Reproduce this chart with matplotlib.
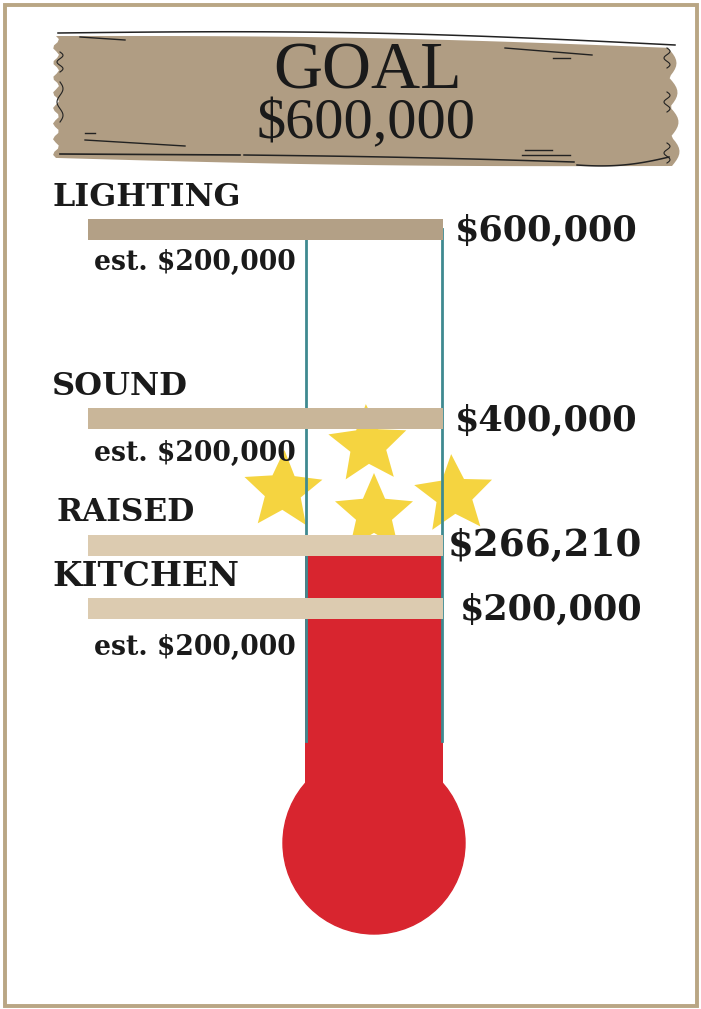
import numpy as np
import matplotlib.pyplot as plt
from matplotlib.patches import Rectangle, Ellipse, Polygon

# data
goal = 600000
raised = 266210
categories = ["LIGHTING", "SOUND", "KITCHEN"]
targets = [600000, 400000, 200000]
estimates = [200000, 200000, 200000]
value_labels = ["$600,000", "$400,000", "$200,000"]

# colours
frame_col = "#b9a684"
wood_col = "#b09d83"
bar_cols = ["#b3a086", "#c9b699", "#dccbb0"]
raised_col = "#dccbb0"
red = "#d8252f"
teal = "#3f8a90"
star_col = "#f5d440"

W, H = 701, 1009
fig = plt.figure(figsize=(W / 100, H / 100), dpi=100)

# pixel layer for decorations
deco = fig.add_axes([0, 0, 1, 1])
deco.set_xlim(0, W)
deco.set_ylim(H, 0)
deco.axis("off")

# chart layer: x in pixels, y in dollars
ax = fig.add_axes([0, 0, 1, 1])
ax.set_xlim(0, W)
ax.set_ylim(-223200, 841700)
ax.axis("off")
ax.patch.set_alpha(0)
px = (841700 + 223200) / H  # dollars per pixel
pt = 0.72  # points per pixel

# frame
deco.add_patch(Rectangle((5, 5), 692, 1001, fill=False, ec=frame_col, lw=2.8))

# wooden sign
t = np.linspace(0, 1, 40)
top = np.c_[58 + 614 * t, 36 + 12 * t - 4 * np.sin(np.pi * t)]
rgt = np.c_[668 + 8 * np.abs(np.sin(t * 4 * np.pi)) + 4 * t, 48 + 118 * t]
bot = np.c_[672 - 614 * t, 166 - 8 * t + 3 * np.sin(np.pi * t)]
lft = np.c_[56 - 3 * np.sin(t * 16 * np.pi), 158 - 122 * t]
deco.add_patch(Polygon(np.vstack([top, rgt, bot, lft]), closed=True, fc=wood_col, ec="none"))
deco.plot(58 + 617 * t, 33 + 12 * t - 6 * np.sin(np.pi * t), color="#222", lw=1.1)
deco.plot(60 + 180 * t, 154 + 1 * t, color="#222", lw=1.2)
deco.plot(244 + 330 * t, 155 + 7 * t - 1 * np.sin(np.pi * t), color="#222", lw=1.1)
deco.plot(577 + 92 * t, 165 + 2 * np.sin(np.pi * t) - 8 * t ** 2, color="#222", lw=1.1)
for x0, y0, x1, y1 in [(80, 37, 125, 40), (505, 48, 592, 55), (553, 58, 570, 58),
                       (85, 140, 185, 146), (85, 133, 95, 133), (525, 150, 552, 150),
                       (522, 155, 570, 155)]:
    deco.plot([x0, x1], [y0, y1], color="#222", lw=1.0)
for xs, segs in ((60, [(52, 72), (82, 122)]), (667, [(48, 68), (92, 112), (143, 163)])):
    for a, b in segs:
        yy = np.linspace(a, b, 30)
        deco.plot(xs + 3 * np.sin((yy - a) / (b - a) * 3 * np.pi), yy, color="#222", lw=0.8)

deco.text(368, 72, "GOAL", family="Liberation Serif", fontsize=49, ha="center", va="center", color="#1a1a1a")
deco.text(366, 124, "$600,000", family="Liberation Serif", fontsize=42, ha="center", va="center", color="#1a1a1a")

# thermometer tube
tube_l, tube_r = 306, 442
tube_bottom = 60000
bulb_y = -48000
ax.plot([tube_l, tube_l], [tube_bottom, goal], color=teal, lw=2, zorder=3)
ax.plot([tube_r, tube_r], [tube_bottom, goal], color=teal, lw=2, zorder=3)

# red fill up to raised amount
ax.bar((tube_l + tube_r) / 2, raised - bulb_y, bottom=bulb_y, width=tube_r - tube_l + 2,
       color=red, zorder=2)
ax.add_patch(Ellipse(((tube_l + tube_r) / 2, bulb_y), 182, 182 * px, color=red, zorder=2))

# target bars
bar_h = 21 * px
ax.barh(targets, 355, left=88, height=bar_h, color=bar_cols, zorder=4)
ax.barh([raised], 355, left=88, height=bar_h, color=raised_col, zorder=4)

font = dict(family="DejaVu Serif", weight="bold", color="#1a1a1a")
for cat, val, est, lab, vx, cs, eo in zip(categories, targets, estimates, value_labels,
                                          [455, 455, 460], [22.8, 23, 24.5], [-33, -35, -39]):
    ax.annotate(cat, (52, val), xytext=(0, 32 * pt), textcoords="offset points",
                fontsize=cs, va="center", ha="left", zorder=6, **font)
    ax.annotate(f"est. ${est:,}", (94, val), xytext=(0, eo * pt), textcoords="offset points",
                fontsize=19.2, va="center", ha="left", zorder=6, **font)
    ax.annotate(lab, (vx, val), xytext=(0, -2 * pt), textcoords="offset points",
                fontsize=25.2, va="center", ha="left", zorder=6, **font)
ax.annotate("RAISED", (57, raised), xytext=(0, 33 * pt), textcoords="offset points",
            fontsize=22.5, va="center", ha="left", zorder=6, **font)
ax.annotate(f"${raised:,}", (448, raised), xytext=(0, -1 * pt), textcoords="offset points",
            fontsize=26.8, va="center", ha="left", zorder=6, **font)

# stars
def star(cx, cy, r, rot=0):
    a = np.deg2rad(90 + rot + np.arange(10) * 36)
    rr = np.where(np.arange(10) % 2 == 0, r, r * 0.46)
    return np.c_[cx + rr * np.cos(a), cy - rr * np.sin(a)]

for cx, cy, r, rot in [(368, 445, 41, 3), (283, 491, 41, -2), (374, 514, 41, 0), (454, 495, 41, 4)]:
    deco.add_patch(Polygon(star(cx, cy, r, rot), closed=True, fc=star_col, ec="none", zorder=7))

fig.savefig("out.png", dpi=100)
